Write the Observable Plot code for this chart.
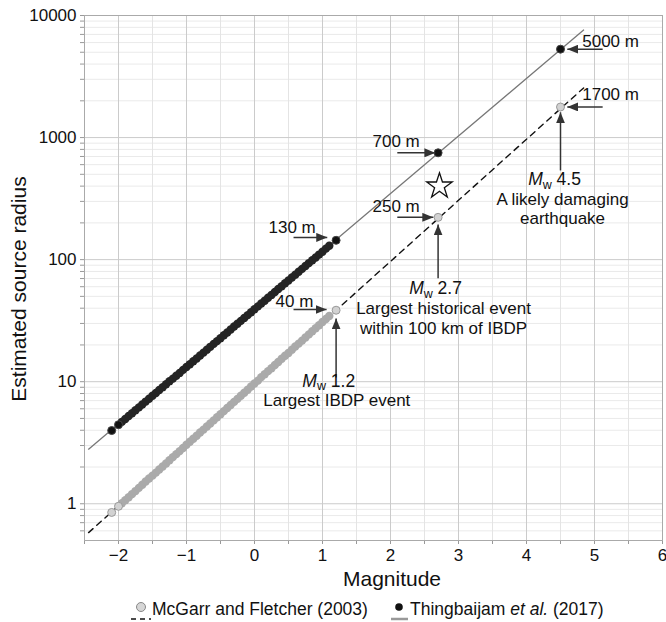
<!DOCTYPE html>
<html>
<head>
<meta charset="utf-8">
<script src="https://cdn.jsdelivr.net/npm/d3@7"></script>
<script src="https://cdn.jsdelivr.net/npm/@observablehq/plot@0.6"></script>
<style>
  body { margin: 0; background: #fff; font-family: "Liberation Sans", Arial, Helvetica, sans-serif; }
  #chart svg [aria-label="x-axis tick"] path,
  #chart svg [aria-label="y-axis tick"] path,
  #chart svg [aria-label="x-axis"] line,
  #chart svg [aria-label="y-axis"] line { stroke: #999; }
  #legend { display: block; }
</style>
</head>
<body>
<div id="chart"></div>
<div id="legendWrap"></div>
<script>
// ---------- data ----------
const magnitudes = [-2.1, -2.0, -1.95, -1.9, -1.85, -1.8, -1.75, -1.7, -1.65, -1.6, -1.55, -1.5, -1.45, -1.4, -1.35, -1.3, -1.25, -1.2, -1.15, -1.1, -1.05, -1.0, -0.95, -0.9, -0.85, -0.8, -0.75, -0.7, -0.65, -0.6, -0.55, -0.5, -0.45, -0.4, -0.35, -0.3, -0.25, -0.2, -0.15, -0.1, -0.05, 0, 0.05, 0.1, 0.15, 0.2, 0.25, 0.3, 0.35, 0.4, 0.45, 0.5, 0.55, 0.6, 0.65, 0.7, 0.75, 0.8, 0.85, 0.9, 0.95, 1.0, 1.05, 1.1];
const radiusThingbaijam = [3.98, 4.44, 4.69, 4.95, 5.23, 5.52, 5.83, 6.16, 6.50, 6.87, 7.25, 7.66, 8.09, 8.54, 9.02, 9.52, 10.1, 10.6, 11.2, 11.8, 12.5, 13.2, 13.9, 14.7, 15.5, 16.4, 17.3, 18.3, 19.3, 20.4, 21.5, 22.7, 24.0, 25.3, 26.8, 28.3, 29.8, 31.5, 33.3, 35.1, 37.1, 39.2, 41.4, 43.7, 46.1, 48.7, 51.4, 54.3, 57.4, 60.6, 64.0, 67.5, 71.3, 75.3, 79.6, 84.0, 88.7, 93.7, 98.9, 104, 110, 116, 123, 130];
const radiusMcGarr = [0.849, 0.953, 1.01, 1.07, 1.13, 1.20, 1.27, 1.35, 1.43, 1.52, 1.61, 1.70, 1.80, 1.91, 2.02, 2.14, 2.27, 2.41, 2.55, 2.70, 2.86, 3.04, 3.22, 3.41, 3.61, 3.83, 4.05, 4.30, 4.55, 4.82, 5.11, 5.42, 5.74, 6.08, 6.44, 6.83, 7.23, 7.66, 8.12, 8.60, 9.12, 9.66, 10.2, 10.9, 11.5, 12.2, 12.9, 13.7, 14.5, 15.4, 16.3, 17.2, 18.3, 19.4, 20.5, 21.7, 23.0, 24.4, 25.9, 27.4, 29.0, 30.8, 32.6, 34.5];

// highlighted events
const eventMag = [1.2, 2.7, 4.5];
const eventThingbaijam = [144, 750, 5300];
const eventMcGarr = [38.5, 222, 1780];

// scaling-relation lines
const lineMag = [-2.44, 4.84];
const lineThingbaijam = [2.8, 7600];
const lineMcGarr = [0.58, 2550];

// star
const starMag = [2.72];
const starRadius = [400];

// axis ticks
const xTicks = [-2.5, -2, -1.5, -1, -0.5, 0, 0.5, 1, 1.5, 2, 2.5, 3, 3.5, 4, 4.5, 5, 5.5, 6];
const xTickLabels = [-2, -1, 0, 1, 2, 3, 4, 5, 6];
const yTicks = [0.6, 0.7, 0.8, 0.9, 1, 2, 3, 4, 5, 6, 7, 8, 9, 10, 20, 30, 40, 50, 60, 70, 80, 90, 100, 200, 300, 400, 500, 600, 700, 800, 900, 1000, 2000, 3000, 4000, 5000, 6000, 7000, 8000, 9000, 10000];
const yTickLabels = [1, 10, 100, 1000, 10000];

// callouts (radius labels with horizontal arrows)
const calloutLabels = ["5000 m", "1700 m", "700 m", "250 m", "130 m", "40 m"];
const calloutLabelMag = [4.82, 4.82, 1.735, 1.735, 0.206, 0.309];
const calloutLabelRadius = [5470, 2015, 830, 244, 164, 40.7];
const calloutFromMag = [5.12, 5.12, 2.10, 2.10, 0.574, 0.574];
const calloutToMag = [4.60, 4.60, 2.66, 2.63, 1.07, 1.06];
const calloutRadius = [5300, 1780, 750, 222, 152, 39];

// event descriptions (vertical arrows)
const eventArrowFrom = [10.8, 70.3, 538];
const eventArrowTo = [33, 194, 1610];
const eventTitles = ["Mw 1.2", "Mw 2.7", "Mw 4.5"];
const eventNotes = ["Largest IBDP event", "Largest historical event\nwithin 100 km of IBDP", "A likely damaging\nearthquake"];
const eventNoteMag = [1.21, 2.78, 4.53];
const eventNoteRadius = [6.27, 24.8, 194];

const xLabel = "Magnitude";
const yLabel = "Estimated source radius";
const seriesNames = ["McGarr and Fletcher (2003)", "Thingbaijam et al. (2017)"];

// ---------- tables ----------
const thing = magnitudes.map((m, i) => ({mag: m, radius: radiusThingbaijam[i]}));
const mcg = magnitudes.map((m, i) => ({mag: m, radius: radiusMcGarr[i]}));
const events = eventMag.map((m, i) => ({mag: m, thing: eventThingbaijam[i], mcg: eventMcGarr[i]}));
const lines = lineMag.map((m, i) => ({mag: m, thing: lineThingbaijam[i], mcg: lineMcGarr[i]}));
const eventText = eventTitles.map((t, i) => t + "\n" + eventNotes[i]);

const ns = "http://www.w3.org/2000/svg";
function arrowHead(color) {
  const m = document.createElementNS(ns, "marker");
  m.setAttribute("viewBox", "-11 -4.5 11 9");
  m.setAttribute("markerWidth", "11");
  m.setAttribute("markerHeight", "9");
  m.setAttribute("markerUnits", "userSpaceOnUse");
  m.setAttribute("refX", "0");
  m.setAttribute("refY", "0");
  m.setAttribute("orient", "auto");
  const p = document.createElementNS(ns, "path");
  p.setAttribute("d", "M-11,-4.5L0,0L-11,4.5Z");
  p.setAttribute("fill", color);
  p.setAttribute("stroke", "none");
  m.appendChild(p);
  return m;
}

const txtColor = "#111";
const arrowColor = "#333";

const chart = Plot.plot({
  width: 666,
  height: 595,
  marginLeft: 84,
  marginRight: 4,
  marginTop: 15,
  marginBottom: 55,
  style: {fontFamily: "'Liberation Sans', Arial, Helvetica, sans-serif", fontSize: "17px", color: txtColor, background: "#fff", overflow: "visible"},
  x: {domain: [-2.5, 6], ticks: xTicks, tickFormat: d => xTickLabels.includes(d) ? d3.format("d")(d) : "", tickSize: 4, tickPadding: 4, label: null},
  y: {type: "log", domain: [0.5, 10000], ticks: yTicks, tickFormat: d => yTickLabels.includes(d) ? String(d) : "", tickSize: 4, tickPadding: 4, label: null},
  marks: [
    Plot.ruleY(yTicks.filter(d => !yTickLabels.includes(d)), {stroke: "#eaeaea", strokeWidth: 1}),
    Plot.ruleX(xTicks.filter(d => !xTickLabels.includes(d)), {stroke: "#e4e4e4", strokeWidth: 1}),
    Plot.ruleY(yTickLabels, {stroke: "#cbcbcb", strokeWidth: 1}),
    Plot.ruleX(xTickLabels, {stroke: "#cbcbcb", strokeWidth: 1}),
    Plot.frame({stroke: "#aaa"}),
    Plot.line(lines, {x: "mag", y: "thing", stroke: "#777", strokeWidth: 1.3}),
    Plot.line(lines, {x: "mag", y: "mcg", stroke: "#111", strokeWidth: 1.4, strokeDasharray: "6,5"}),
    // dense bands
    Plot.dot(mcg, {filter: (d, i) => i >= 2, x: "mag", y: "radius", r: 4.2, fill: "#aaa", stroke: "none"}),
    Plot.dot(thing, {filter: (d, i) => i >= 2, x: "mag", y: "radius", r: 4.2, fill: "#242424", stroke: "none"}),
    // isolated points
    Plot.dot(mcg, {filter: (d, i) => i < 2, x: "mag", y: "radius", r: 4, fill: "#d2d2d2", stroke: "#999", strokeWidth: 1}),
    Plot.dot(thing, {filter: (d, i) => i < 2, x: "mag", y: "radius", r: 4, fill: "#111", stroke: "#444", strokeWidth: 1}),
    Plot.dot(events, {x: "mag", y: "mcg", r: 4, fill: "#d2d2d2", stroke: "#999", strokeWidth: 1}),
    Plot.dot(events, {x: "mag", y: "thing", r: 4, fill: "#111", stroke: "#444", strokeWidth: 1}),
    // star
    Plot.dot(starMag, {x: d => d, y: (d, i) => starRadius[i], symbol: "star", r: 8, fill: "#fff", stroke: "#111", strokeWidth: 1.3}),
    // horizontal callout arrows
    Plot.link(calloutLabels, {x1: (d, i) => calloutFromMag[i], x2: (d, i) => calloutToMag[i], y1: (d, i) => calloutRadius[i], y2: (d, i) => calloutRadius[i], stroke: arrowColor, strokeWidth: 1.5, markerEnd: arrowHead}),
    Plot.text(calloutLabels, {x: (d, i) => calloutLabelMag[i], y: (d, i) => calloutLabelRadius[i], text: d => d, textAnchor: "start", lineAnchor: "bottom", fontSize: 17, fill: txtColor}),
    // vertical event arrows
    Plot.link(eventMag, {x1: d => d, x2: d => d, y1: (d, i) => eventArrowFrom[i], y2: (d, i) => eventArrowTo[i], stroke: arrowColor, strokeWidth: 1.5, markerEnd: arrowHead}),
    Plot.text(eventText, {x: (d, i) => eventNoteMag[i], y: (d, i) => eventNoteRadius[i], text: d => d, textAnchor: "middle", lineAnchor: "bottom", lineHeight: 1.15, fontSize: 17, fill: txtColor})
  ]
});

// italic M with subscript w in the event titles
function styleMw(el) {
  const t = el.textContent;
  el.textContent = "";
  el.setAttribute("dx", "-8");
  const a = document.createElementNS(ns, "tspan"); a.setAttribute("font-style", "italic"); a.setAttribute("font-size", "17.5"); a.textContent = "M";
  const b = document.createElementNS(ns, "tspan"); b.setAttribute("font-size", "12.5"); b.setAttribute("dy", "3.5"); b.textContent = "w";
  const c = document.createElementNS(ns, "tspan"); c.setAttribute("dy", "-3.5"); c.setAttribute("font-size", "17.5"); c.textContent = t.slice(2);
  el.append(a, b, c);
}
d3.select(chart).selectAll("text").each(function () {
  const tspans = this.querySelectorAll("tspan");
  if (tspans.length) {
    tspans.forEach(ts => { if (/^Mw /.test(ts.textContent)) styleMw(ts); });
  } else if (/^Mw /.test(this.textContent)) {
    styleMw(this);
  }
});

// axis titles
const svgSel = d3.select(chart.tagName.toLowerCase() === "svg" ? chart : chart.querySelector("svg"));
svgSel.append("text").attr("x", 392).attr("y", 586).attr("text-anchor", "middle")
  .attr("font-size", 21).attr("fill", txtColor).text(xLabel);
svgSel.append("text").attr("transform", "translate(26,289) rotate(-90)").attr("text-anchor", "middle")
  .attr("font-size", 21).attr("fill", txtColor).text(yLabel);

document.getElementById("chart").appendChild(chart);

// legend below the chart
const lg = d3.select("#legendWrap").append("svg").attr("id", "legend").attr("width", 666).attr("height", 27)
  .style("font-family", "'Liberation Sans', Arial, Helvetica, sans-serif").style("font-size", "17.5px");
lg.append("line").attr("x1", 131).attr("x2", 151).attr("y1", 24).attr("y2", 24).attr("stroke", "#111").attr("stroke-width", 1.5).attr("stroke-dasharray", "5,4");
lg.append("circle").attr("cx", 141).attr("cy", 12).attr("r", 4.5).attr("fill", "#d6d6d6").attr("stroke", "#888");
lg.append("text").attr("x", 152).attr("y", 20).attr("fill", txtColor).text(seriesNames[0]);
lg.append("line").attr("x1", 391).attr("x2", 408).attr("y1", 24).attr("y2", 24).attr("stroke", "#999").attr("stroke-width", 2.5);
lg.append("circle").attr("cx", 399).attr("cy", 12).attr("r", 3.8).attr("fill", "#111");
const t2 = lg.append("text").attr("x", 410).attr("y", 20).attr("fill", txtColor);
t2.append("tspan").text("Thingbaijam ");
t2.append("tspan").attr("font-style", "italic").text("et al.");
t2.append("tspan").text(" (2017)");
</script>
</body>
</html>
